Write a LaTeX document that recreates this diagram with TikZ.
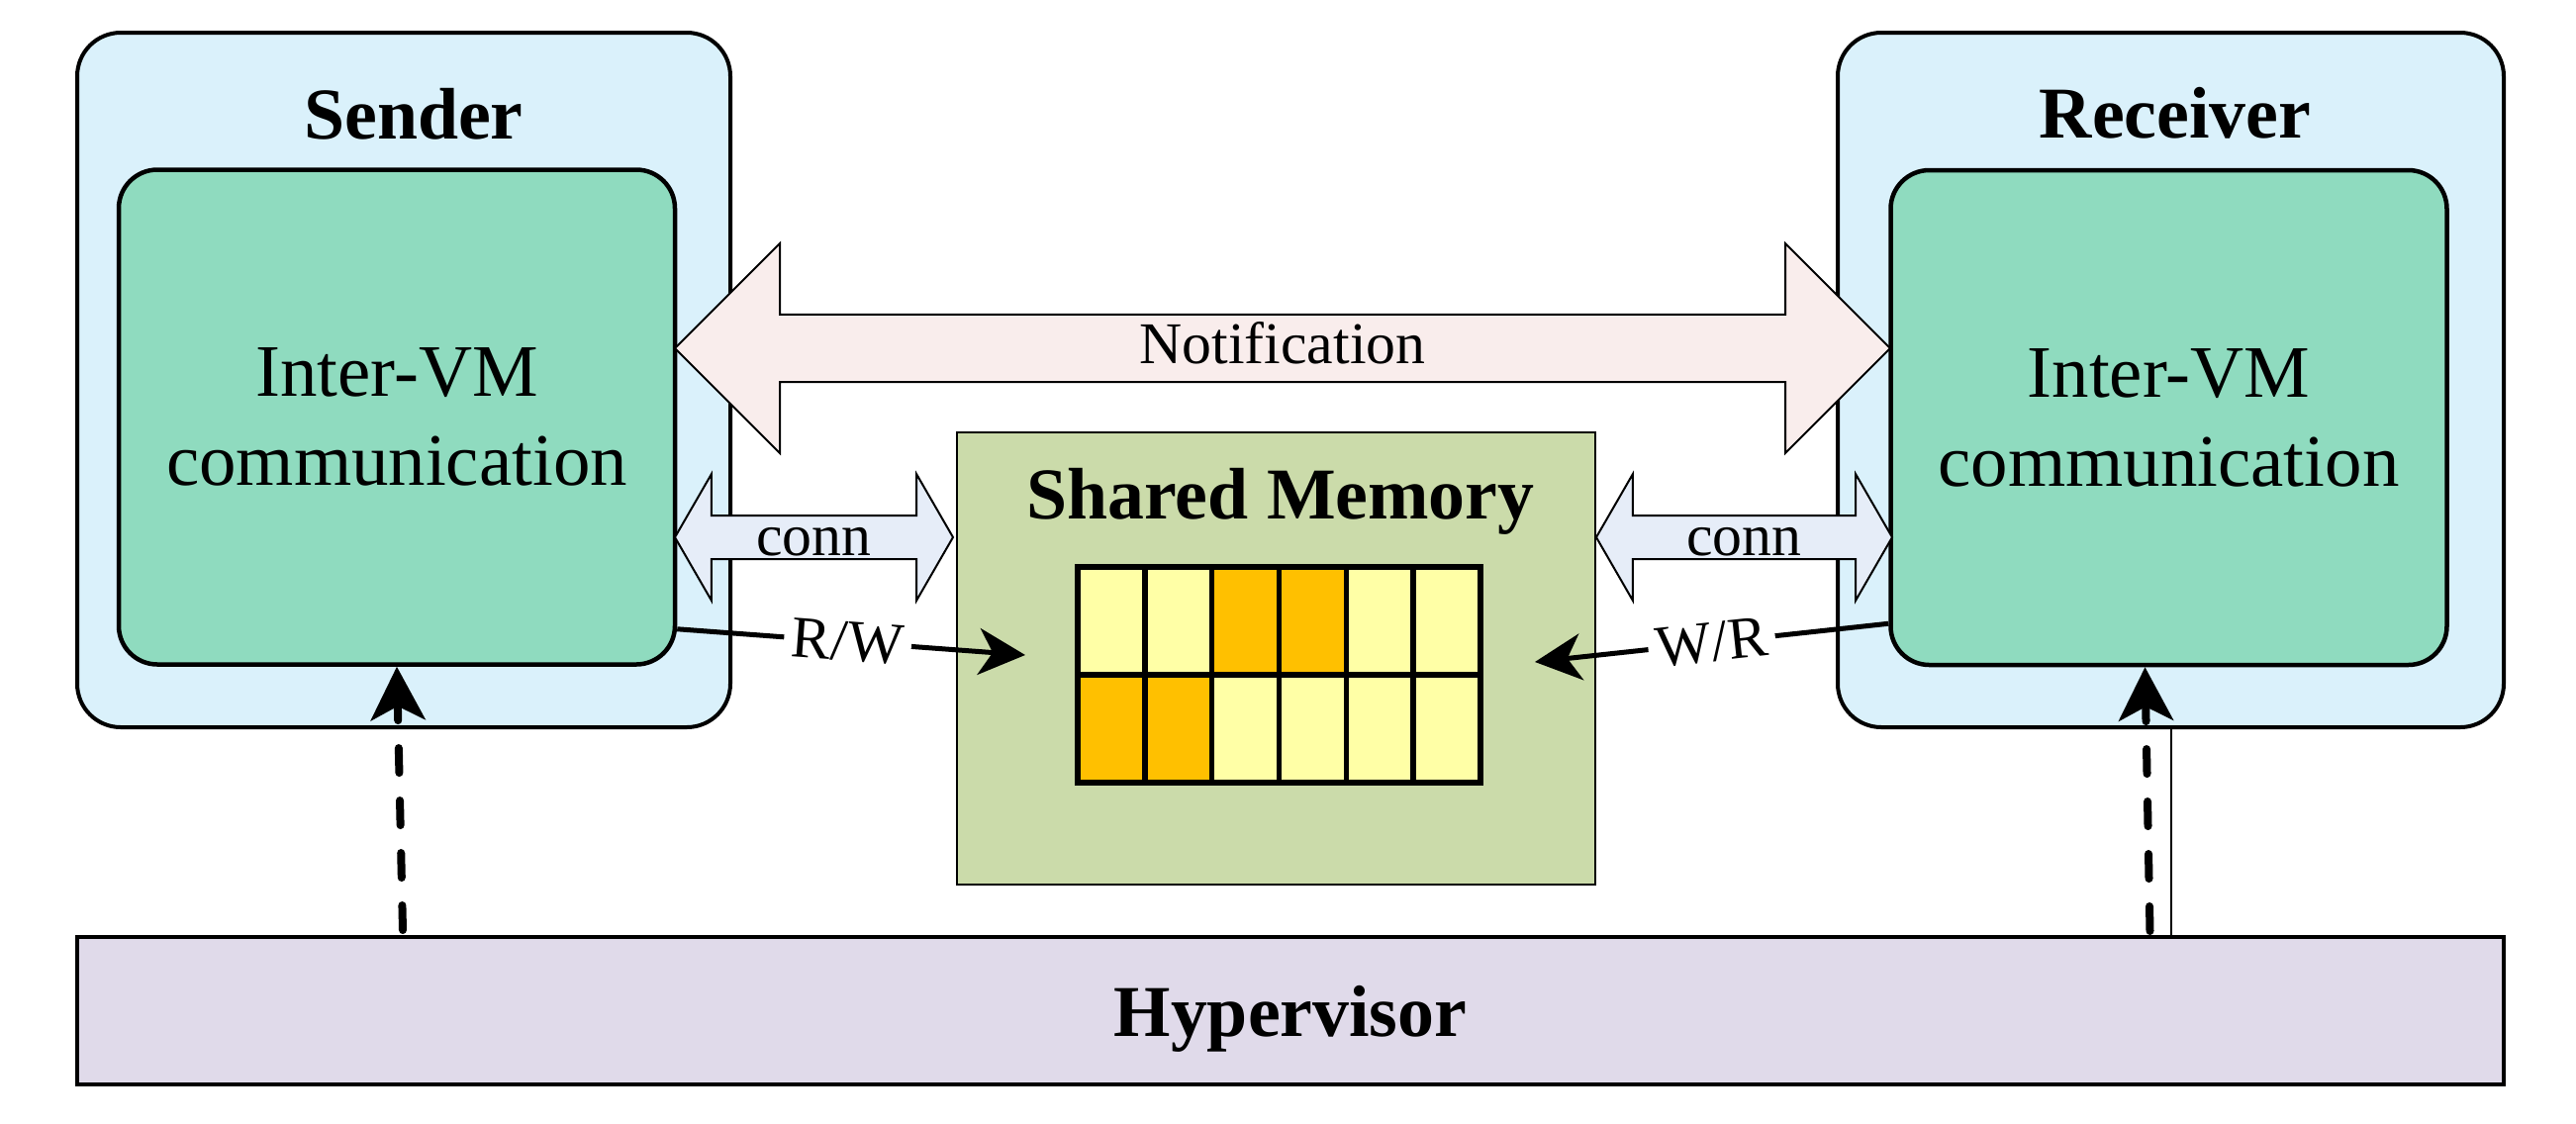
\documentclass[tikz,border=0pt]{standalone}
\usepackage{fontspec}
\setmainfont{Liberation Serif}
\usetikzlibrary{shapes.arrows,arrows.meta,calc}

\definecolor{vmblue}{RGB}{218,241,251}
\definecolor{ivmgreen}{RGB}{143,219,191}
\definecolor{memgreen}{RGB}{203,219,170}
\definecolor{hyppurple}{RGB}{224,218,234}
\definecolor{notifpink}{RGB}{249,237,236}
\definecolor{connblue}{RGB}{230,237,248}
\definecolor{celllite}{RGB}{255,255,166}
\definecolor{cellgold}{RGB}{255,192,0}

\begin{document}
\begin{tikzpicture}[x=0.1mm, y=-0.1mm,
		vm_style/.style={draw=black, line width=0.4mm, fill=vmblue, rounded corners=4.4mm, minimum width=66mm, minimum height=70.2mm},
		ivm_style/.style={draw=black, line width=0.45mm, fill=ivmgreen, rounded corners=3.9mm, minimum width=56.2mm, minimum height=50mm, align=center, font=\fontsize{21.3}{25.6}\selectfont},
		title_style/.style={anchor=base, inner sep=0pt, font=\fontsize{21}{25}\selectfont\bfseries},
		mem_style/.style={draw=black, line width=0.2mm, fill=memgreen, minimum width=64.5mm, minimum height=45.7mm},
		cell_style/.style={draw=black, line width=0.55mm, minimum width=6.783mm, minimum height=10.9mm, inner sep=0pt},
		hyp_style/.style={draw=black, line width=0.4mm, fill=hyppurple, minimum width=245.2mm, minimum height=14.9mm, text depth=0pt, font=\fontsize{21}{25}\selectfont\bfseries},
		notif_style/.style={double arrow, draw=black, line width=0.2mm, fill=notifpink, double arrow tip angle=90, double arrow head extend=6.95mm, minimum height=122.8mm, minimum width=21.2mm, inner sep=0.5mm, text depth=1.2mm, font=\fontsize{17}{20}\selectfont},
		conn_style/.style={double arrow, draw=black, line width=0.2mm, fill=connblue, double arrow tip angle=120, double arrow head extend=4.2mm, minimum height=28.1mm, minimum width=12.8mm, inner sep=0.3mm, text height=3.6mm, text depth=0pt, font=\fontsize{17}{20}\selectfont},
		rw_style/.style={draw=black, line width=0.5mm, -{Stealth[length=4.7mm, width=4.7mm, inset=1.4mm]}},
		lbl_style/.style={fill=white, inner sep=0.8mm, sloped, font=\fontsize{17}{20}\selectfont},
		boot_style/.style={draw=black, line width=0.8mm, line cap=round, dash pattern=on 2.5mm off 2.8mm, -{Stealth[length=5.4mm, width=5.5mm, inset=1.4mm]}}]
		
		\useasboundingbox (0,0) rectangle (2603,1135);
		
		% virtual machines
		\node[vm_style] (sout) at (408,384) {};
		\node[vm_style, minimum width=67.3mm] (rout) at (2193.5,384) {};
		\node[title_style] (stitle) at (418,140) {Sender};
		\node[title_style] (rtitle) at (2198,139) {Receiver};
		\node[ivm_style] (sin) at (401,421.5) {Inter-VM\\communication};
		\node[ivm_style] (rin) at (2191.5,422) {Inter-VM\\communication};
		
		% shared memory
		\node[mem_style] (mem) at (1289.5,665.5) {};
		\node[title_style] (memtitle) at (1294,524) {Shared Memory};
		\foreach \c [count=\i] in {celllite,celllite,cellgold,cellgold,celllite,celllite}
			\node[cell_style, fill=\c] (m1\i) at ({1089+67.83*(\i-0.5)},627.5) {};
		\foreach \c [count=\i] in {cellgold,cellgold,celllite,celllite,celllite,celllite}
			\node[cell_style, fill=\c] (m2\i) at ({1089+67.83*(\i-0.5)},736.5) {};
		
		% hypervisor
		\node[hyp_style] (hyp) at (1304,1021.5) {Hypervisor};
		
		% channels
		\node[notif_style] (notif) at (1296,352) {Notification};
		\node[conn_style] (connl) at (822.5,543) {conn};
		\node[conn_style, minimum height=29.9mm] (connr) at (1762.5,543) {conn};
		
		\draw[rw_style] ($(sin.south east)+(0,-38)$) -- node[lbl_style, pos=0.49] {R/W} ($(mem.west)+(70,-3.5)$);
		\draw[rw_style] ($(rin.south west)+(0,-44)$) -- node[lbl_style, pos=0.5] {W/R} ($(mem.east)+(-62,3.5)$);
		
		\draw[boot_style] ($(sin.south |- hyp.north)+(6,-5)$) -- (sin.south);
		\draw[boot_style] ($(rin.south |- hyp.north)+(-19,-4)$) -- ($(rin.south)+(-24,0)$);
		\draw[line width=0.2mm] (rout.south) -- (rout.south |- hyp.north);
		
\end{tikzpicture}
\end{document}
